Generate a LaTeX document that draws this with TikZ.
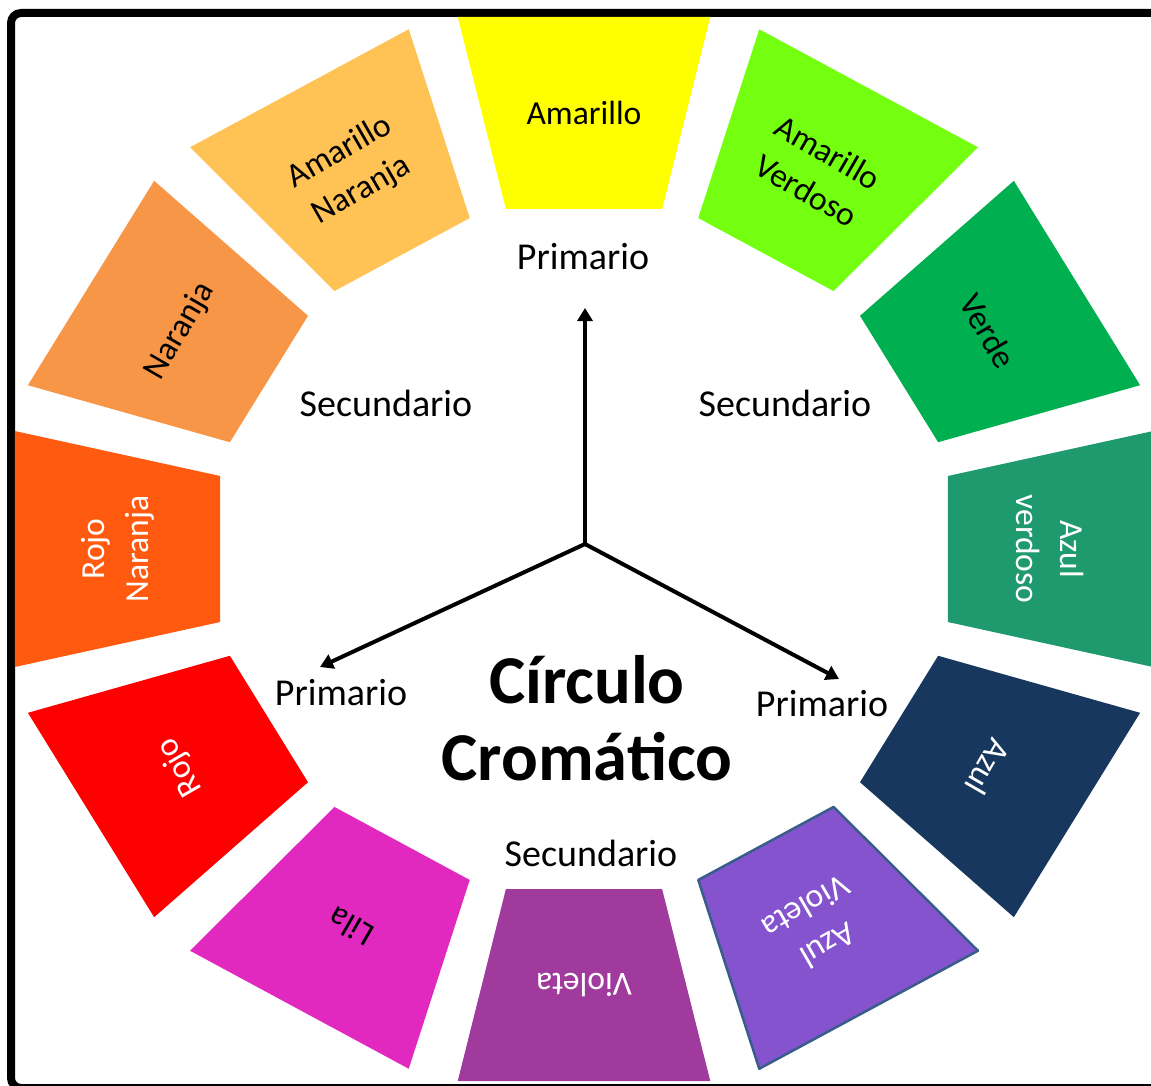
\documentclass[tikz,border=0pt]{standalone}
\usepackage{fontspec}
\setmainfont{Carlito}
\usetikzlibrary{arrows.meta}
\definecolor{cAm}{HTML}{FFFF00}
\definecolor{cAmV}{HTML}{74FF10}
\definecolor{cVer}{HTML}{00B050}
\definecolor{cAzV}{HTML}{1F9A6F}
\definecolor{cAz}{HTML}{17375E}
\definecolor{cAzVi}{HTML}{8453CD}
\definecolor{cVi}{HTML}{A03B9D}
\definecolor{cLi}{HTML}{E128BF}
\definecolor{cRo}{HTML}{FF0000}
\definecolor{cRoN}{HTML}{FF5A0F}
\definecolor{cNa}{HTML}{F79646}
\definecolor{cAmN}{HTML}{FFC254}
\definecolor{cBorder}{HTML}{385D8A}
\begin{document}
\begin{tikzpicture}[x=1pt,y=1pt,
  seglabel/.style={align=center,font=\fontsize{33.6}{44}\selectfont,inner sep=0pt},
  midlabel/.style={font=\fontsize{38}{46}\selectfont,inner sep=0pt},
  titlelabel/.style={align=center,font=\bfseries\fontsize{68.5}{77}\selectfont,inner sep=0pt},
  spoke/.style={line width=4pt,line cap=round,-{Triangle[length=13pt,width=15pt]}}]
\useasboundingbox (0,0) rectangle (1151,-1086);
\fill[white] (0,0) rectangle (1151,-1086);
\begin{scope}
  \clip (0,0) rectangle (1151,-1086);
  \draw[line width=8pt,rounded corners=10pt] (11,-13) rectangle (1170,-1088);
\end{scope}
\begin{scope}[shift={(584,-549)},xscale=1.07]
  \foreach \ang/\col/\tcol/\txt/\nm in {
    90/cAm/black/{Amarillo}/am,
    60/cAmV/black/{Amarillo\\Verdoso}/amv,
    30/cVer/black/{Verde}/ver,
    0/cAzV/white/{Azul\\verdoso}/azv,
    -30/cAz/white/{Azul}/az,
    -60/cAzVi/white/{Azul\\Violeta}/azvi,
    -90/cVi/white/{Violeta}/vi,
    -120/cLi/black/{Lila}/li,
    -150/cRo/white/{Rojo}/ro,
    180/cRoN/white/{Rojo\\Naranja}/ron,
    150/cNa/black/{Naranja}/na,
    120/cAmN/black/{Amarillo\\Naranja}/amn}{
    \pgfmathsetmacro\rot{\ang-90}
    \fill[\col,rotate=\rot] (-73,340) -- (73,340) -- (118,532) -- (-118,532) -- cycle;
    \node[seglabel,text=\tcol,rotate=\rot] (seg-\nm) at (\ang:436) {\txt};
  }
  \draw[cBorder,line width=2.5pt,line join=round,rotate=-150] (-73,340) -- (73,340) -- (118,532) -- (-118,532) -- cycle;
\end{scope}
\node[midlabel] (prim-top) at (583,-257) {Primario};
\node[midlabel] (sec-left) at (386,-403) {Secundario};
\node[midlabel] (sec-right) at (785,-403) {Secundario};
\node[midlabel] (prim-left) at (341,-693) {Primario};
\node[midlabel] (prim-right) at (822,-704) {Primario};
\node[midlabel] (sec-bottom) at (591,-853) {Secundario};
\node[titlelabel] (title) at (587,-718) {Círculo\\Cromático};
\coordinate (hub) at (585,-544);
\coordinate (tip-up) at (585,-308);
\coordinate (tip-left) at (320,-667);
\coordinate (tip-right) at (839,-679);
\draw[spoke] (hub) -- (tip-up);
\draw[spoke] (hub) -- (tip-left);
\draw[spoke] (hub) -- (tip-right);
\end{tikzpicture}
\end{document}
